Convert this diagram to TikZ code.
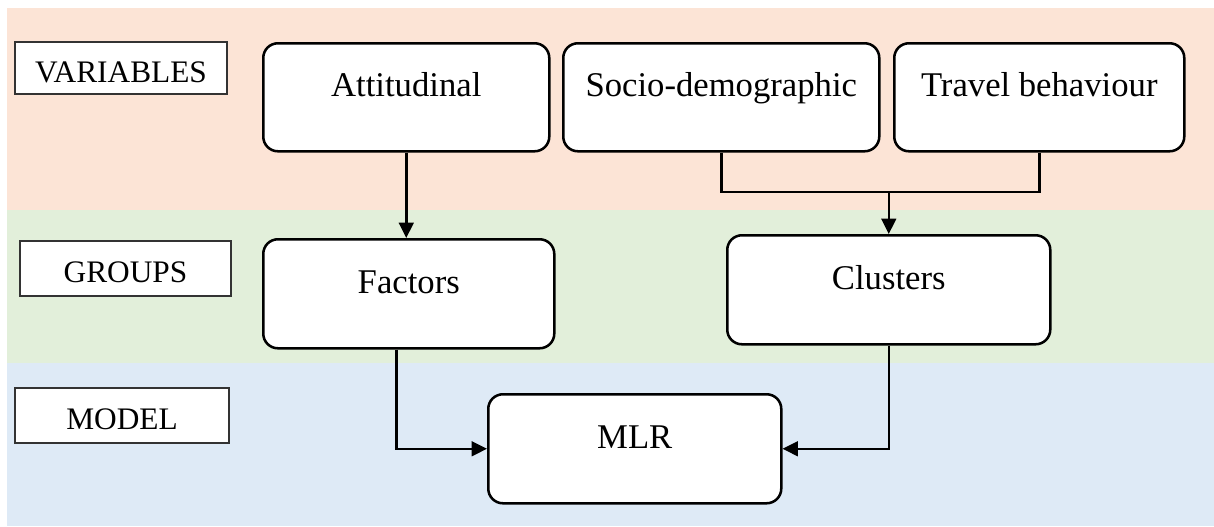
\documentclass[tikz,border=0pt]{standalone}
\usepackage{fontspec}
\setmainfont{Liberation Serif}
\usetikzlibrary{arrows.meta}
\definecolor{bandpink}{HTML}{FCE4D6}
\definecolor{bandgreen}{HTML}{E2EFDA}
\definecolor{bandblue}{HTML}{DEEAF6}
\definecolor{lblborder}{HTML}{333333}
\def\px{0.75pt}
\tikzset{
  rbox/.style={draw=black, line width=1.9pt, rounded corners=11pt, fill=white,
    inner sep=0pt, anchor=north west, font=\fontsize{26}{31}\selectfont},
  lbl/.style={draw=lblborder, line width=0.8pt, fill=white, inner sep=0pt,
    font=\fontsize{23.5}{28}\selectfont},
  conn/.style={draw=black, line width=1.9pt},
  arr/.style={conn, -{Triangle[length=11.5pt,width=11pt]}},
}
\begin{document}
\begin{tikzpicture}[x=0.75pt, y=-0.75pt]
\useasboundingbox (0,0) rectangle (1214,526);
% bands
\fill[bandpink] (7,8) rectangle (1214,210);
\fill[bandgreen] (7,210) rectangle (1214,363);
\fill[bandblue] (7,363) rectangle (1214,526);
% row labels
\node[lbl, minimum width=212*\px, text height=40*\px, text depth=12*\px] (lv) at (121,68) {VARIABLES};
\node[lbl, minimum width=211*\px, text height=41*\px, text depth=14*\px] (lg) at (125.5,268.5) {GROUPS};
\node[lbl, minimum width=214*\px, text height=41*\px, text depth=14*\px] (lm) at (122,415.5) {MODEL};
% boxes
\node[rbox, minimum width=286*\px, text height=53*\px, text depth=55*\px] (att) at (262,42) {Attitudinal};
\node[rbox, minimum width=316*\px, text height=53*\px, text depth=55*\px] (soc) at (562,42) {Socio-demographic};
\node[rbox, minimum width=290*\px, text height=53*\px, text depth=55*\px] (trv) at (893,42) {Travel behaviour};
\node[rbox, minimum width=291*\px, text height=54*\px, text depth=55*\px] (fac) at (262,238) {Factors};
\node[rbox, minimum width=323*\px, text height=54*\px, text depth=55*\px] (clu) at (726,234) {Clusters};
\node[rbox, minimum width=293*\px, text height=54*\px, text depth=55*\px] (mlr) at (487,393) {MLR};
% connectors
\coordinate (bar) at (0,192);
\draw[arr] (att.south) -- (att.south |- fac.north);
\draw[conn] (soc.south) -- (soc.south |- bar) -- (trv.south |- bar) -- (trv.south);
\draw[arr] (clu.north |- bar) -- (clu.north);
\draw[arr] ([xshift=-12.5*\px]fac.south) |- (mlr.west);
\draw[arr] (clu.south) |- (mlr.east);
\end{tikzpicture}
\end{document}
